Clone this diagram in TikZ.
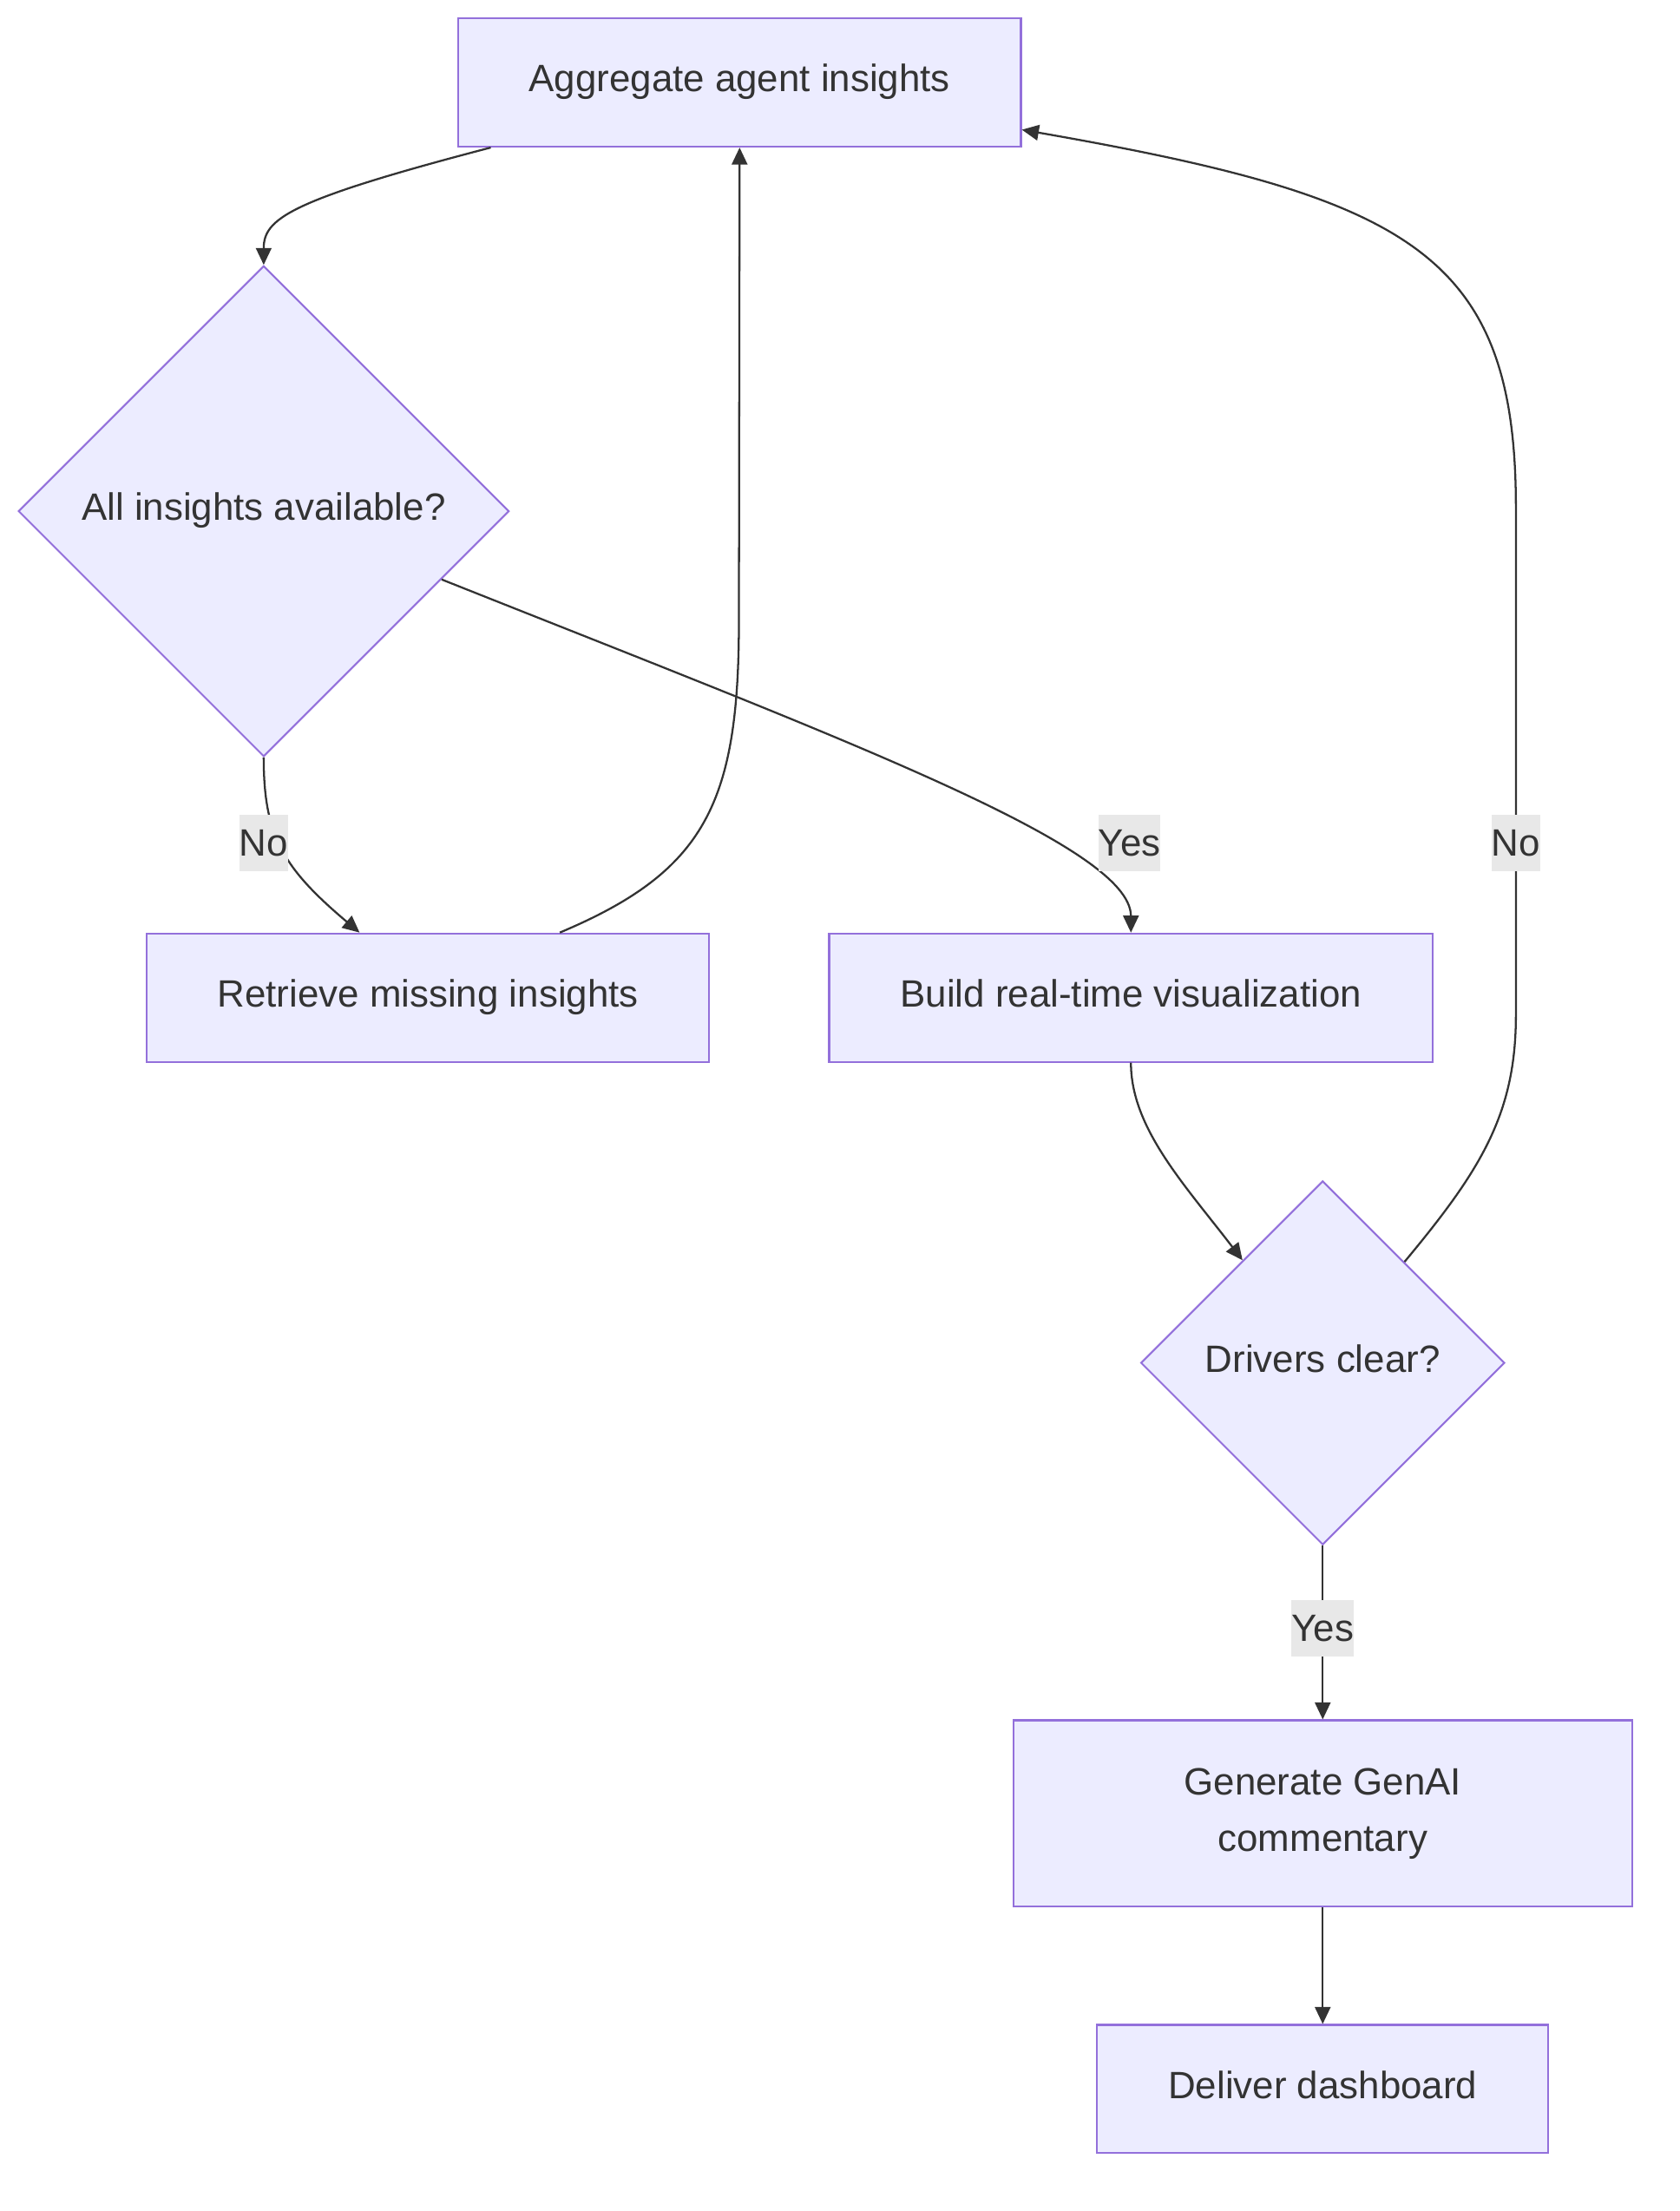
\documentclass[tikz,border=0pt]{standalone}
\usepackage{fontspec}
\setmainfont{Liberation Sans}
\usetikzlibrary{shapes.geometric,arrows.meta,calc}
\definecolor{nodefill}{HTML}{ECECFF}
\definecolor{nodeline}{HTML}{9370DB}
\definecolor{edgeline}{HTML}{333333}
\definecolor{labelfill}{HTML}{E8E8E8}

\begin{document}
\begin{tikzpicture}[
    x=0.5pt, y=-0.5pt,
    box/.style={rectangle, draw=nodeline, fill=nodefill, line width=0.65pt, minimum height=45.5pt, align=center, text=edgeline, font=\fontsize{13.5}{20}\selectfont, inner sep=0pt, text height=9.6pt, text depth=2.9pt},
    decision/.style={diamond, aspect=1, draw=nodeline, fill=nodefill, line width=0.65pt, align=center, text=edgeline, font=\fontsize{13.5}{20}\selectfont, inner sep=0pt, text height=9.6pt, text depth=2.9pt},
    arrow/.style={-{Triangle[length=6pt, width=5.5pt]}, draw=edgeline, line width=0.7pt},
    edgelabel/.style={fill=labelfill, text=edgeline, font=\fontsize{13.5}{20}\selectfont, inner xsep=0pt, inner ysep=0pt, minimum height=20pt},
]
\useasboundingbox (0,0) rectangle (1191,1568);

% Nodes
\node[box, minimum width=199.5pt] (aggregate) at (524.5,58.5) {Aggregate agent insights};
\node[decision, minimum width=174pt, minimum height=174pt] (available) at (187,362.5) {All insights available?};
\node[box, minimum width=199.5pt] (retrieve) at (303.5,707.5) {Retrieve missing insights};
\node[box, minimum width=214pt] (visual) at (802,707.5) {Build real-time visualization};
\node[decision, minimum width=129pt, minimum height=129pt] (drivers) at (938,966.5) {Drivers clear?};
\node[box, minimum width=219.5pt, minimum height=66pt, text height={}, text depth={}] (commentary) at (938,1286) {Generate GenAI\\commentary};
\node[box, minimum width=160pt] (dashboard) at (938,1481.5) {Deliver dashboard};

% Edges
\draw[arrow] ($(aggregate.south)+(-176.5,0)$) .. controls (205,142) and (187,155) .. (available.north);
\draw[arrow] (available.south) .. controls (187,592) and (200,615) .. ($(retrieve.north)+(-48.5,0)$);
\draw[arrow] ($(retrieve.north)+(93.5,0)$) .. controls (500,618) and (524,570) .. (524,440) -- (aggregate.south);
\draw[arrow] (available.-21) .. controls (600,525) and (802,600) .. (visual.north);
\draw[arrow] (visual.south) .. controls (802,800) and (840,840) .. (drivers.128);
\draw[arrow] (drivers.51) .. controls (1050,830) and (1075,790) .. (1075,720) -- (1075,360)
    .. controls (1075,180) and (1000,140) .. ($(aggregate.east)+(0,33.5)$);
\draw[arrow] (drivers.south) -- (commentary.north);
\draw[arrow] (commentary.south) -- (dashboard.north);

% Edge labels
\node[edgelabel] (no1) at (187,598) {No};
\node[edgelabel] (yes1) at (801,598) {Yes};
\node[edgelabel] (no2) at (1075,598) {No};
\node[edgelabel] (yes2) at (938,1155) {Yes};

\end{tikzpicture}
\end{document}
